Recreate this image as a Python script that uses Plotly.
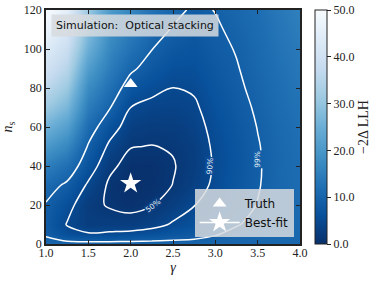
import plotly.graph_objects as go

# ---- data ----
gamma = [1.0, 1.25, 1.5, 1.75, 2.0, 2.25, 2.5, 2.75, 3.0, 3.25, 3.5, 3.75, 4.0]
ns = [0, 5, 10, 20, 30, 40, 50, 60, 70, 80, 90, 100, 110, 120]

# -2 Delta LLH, one list per gamma column (values along ns)
col_g100 = [10.5, 8.8, 8.1, 8.9, 11.0, 15.0, 20.0, 25.5, 31.0, 36.0, 40.0, 43.5, 47.0, 50.0]
col_g125 = [10.5, 5.8, 4.4, 5.8, 8.4, 12.0, 16.5, 21.5, 26.5, 31.0, 35.0, 38.5, 42.0, 45.0]
col_g150 = [10.5, 5.0, 2.6, 2.3, 4.0, 6.6, 8.8, 11.5, 14.5, 17.5, 21.0, 25.0, 28.0, 31.0]
col_g175 = [10.5, 5.2, 2.8, 1.1, 0.9, 2.0, 3.9, 6.3, 9.5, 12.2, 14.5, 16.5, 18.5, 20.5]
col_g200 = [10.5, 5.6, 2.7, 0.5, 0.0, 0.4, 1.5, 2.9, 4.6, 7.0, 10.0, 12.5, 14.5, 16.5]
col_g225 = [10.5, 6.3, 3.4, 1.3, 0.4, 0.4, 1.3, 2.4, 3.7, 5.5, 7.4, 9.3, 10.9, 12.6]
col_g250 = [10.5, 7.2, 5.0, 2.7, 1.45, 1.2, 1.6, 2.5, 3.5, 4.6, 5.9, 7.4, 8.9, 10.3]
col_g275 = [10.5, 7.8, 6.2, 4.5, 3.1, 2.6, 2.8, 3.4, 4.1, 5.0, 5.9, 6.8, 7.7, 8.6]
col_g300 = [10.5, 9.0, 7.9, 6.3, 5.3, 5.0, 5.2, 5.6, 6.2, 6.9, 7.6, 8.3, 8.8, 9.3]
col_g325 = [10.5, 10.0, 9.0, 8.0, 7.3, 7.0, 7.1, 7.5, 8.0, 8.6, 9.0, 9.4, 9.9, 10.5]
col_g350 = [10.5, 10.4, 10.1, 9.3, 9.0, 8.9, 9.0, 9.3, 9.7, 10.1, 10.5, 10.9, 11.3, 11.8]
col_g375 = [10.5, 10.6, 10.6, 10.5, 10.5, 10.5, 10.6, 10.9, 11.3, 11.7, 12.2, 12.7, 13.2, 13.8]
col_g400 = [10.5, 10.8, 11.0, 11.2, 11.4, 11.6, 11.9, 12.2, 12.6, 13.1, 13.6, 14.2, 14.8, 15.4]

columns = [col_g100, col_g125, col_g150, col_g175, col_g200, col_g225, col_g250,
           col_g275, col_g300, col_g325, col_g350, col_g375, col_g400]

contour_levels = [1.39, 4.61, 9.21]
contour_names = ["50%", "90%", "99%"]

truth = (2.0, 82.0)
bestfit = (2.0, 31.0)

cbar_ticks = [0, 10, 20, 30, 40, 50]

# z[row=ns][col=gamma]
z = [[columns[j][i] for j in range(len(gamma))] for i in range(len(ns))]

blues_r = [[0.0, "#08306b"], [0.125, "#08519c"], [0.25, "#2171b5"], [0.375, "#4292c6"],
           [0.5, "#6baed6"], [0.625, "#9ecae1"], [0.75, "#c6dbef"], [0.875, "#deebf7"],
           [1.0, "#f7fbff"]]

SERIF = "'Liberation Serif'"
SANS = "'DejaVu Sans'"

fig = go.Figure()
fig.add_trace(go.Heatmap(
    x=gamma, y=ns, z=z, zmin=0, zmax=50, zsmooth="best", colorscale=blues_r,
    hoverinfo="skip",
    colorbar=dict(
        xref="container", x=315 / 382, xanchor="left", xpad=0, ypad=0,
        thickness=12, lenmode="pixels", len=234, y=0.5, yanchor="middle",
        outlinewidth=1, outlinecolor="#222",
        tickvals=cbar_ticks, tickformat=".1f", ticks="outside", ticklen=4,
        tickcolor="#222", tickfont=dict(family=SERIF, size=12, color="#222"),
        title=dict(text="−2Δ LLH", side="right", font=dict(family=SERIF, size=14, color="#222")),
    ),
))

for lev in contour_levels:
    fig.add_trace(go.Contour(
        x=gamma, y=ns, z=z, showscale=False, hoverinfo="skip",
        contours=dict(start=lev, end=lev, size=1, coloring="none"),
        line=dict(color="white", width=1.5, smoothing=1.0),
        showlegend=False,
    ))

fig.add_trace(go.Scatter(
    x=[truth[0]], y=[truth[1]], mode="markers", name="Truth",
    marker=dict(symbol="triangle-up", size=12, color="white", line=dict(width=0)),
))
fig.add_trace(go.Scatter(
    x=[bestfit[0]], y=[bestfit[1]], mode="lines+markers", name="Best-fit",
    marker=dict(symbol="star", size=16, color="white", line=dict(width=0)),
    line=dict(color="white", width=1.5),
))

# contour labels
label_pos = [(2.27, 19.5, -38, "#0b3f82"), (2.93, 40.0, -86, "#0d4d97"), (3.50, 43.5, -90, "#1560a8")]
for (lx, ly, ang, bg), txt in zip(label_pos, contour_names):
    fig.add_annotation(x=lx, y=ly, text=txt, showarrow=False, textangle=ang,
                       font=dict(family=SANS, size=7.5, color="rgba(255,255,255,0.9)"),
                       bgcolor=bg, borderpad=0)

fig.add_annotation(
    xref="paper", yref="paper", x=0.018, y=0.985, xanchor="left", yanchor="top",
    text="Simulation:&nbsp; Optical stacking", showarrow=False,
    font=dict(family=SANS, size=11, color="#111"),
    bgcolor="rgba(215,218,222,0.85)", borderpad=4,
)

axis_common = dict(
    showline=True, linecolor="#222", linewidth=1.5, mirror="allticks",
    ticks="inside", ticklen=4, tickcolor="#222", showgrid=False, zeroline=False,
    tickfont=dict(family=SERIF, size=12, color="#222"),
)
fig.update_xaxes(range=[1.0, 4.0], dtick=0.5, tick0=1.0, tickformat=".1f",
                 ticklabelstandoff=-3,
                 title=dict(text="<i>γ</i>", font=dict(family=SERIF, size=14, color="#222"), standoff=2),
                 **axis_common)
fig.update_yaxes(range=[0, 120], dtick=20, tick0=0,
                 title=dict(text="<i>n</i><sub>s</sub>", font=dict(family=SERIF, size=14, color="#222"), standoff=8),
                 **axis_common)

fig.update_layout(
    width=382, height=283,
    margin=dict(l=46, r=82, t=10, b=39, autoexpand=False),
    paper_bgcolor="white", plot_bgcolor="white",
    legend=dict(x=0.975, y=0.03, xanchor="right", yanchor="bottom",
                bgcolor="rgba(215,218,222,0.85)", borderwidth=0,
                font=dict(family=SANS, size=12, color="#111"),
                itemsizing="trace", itemwidth=40, tracegroupgap=0),
)

fig.write_html("out.html", config={"displayModeBar": False},
               post_script="document.body.style.margin='0px';")
